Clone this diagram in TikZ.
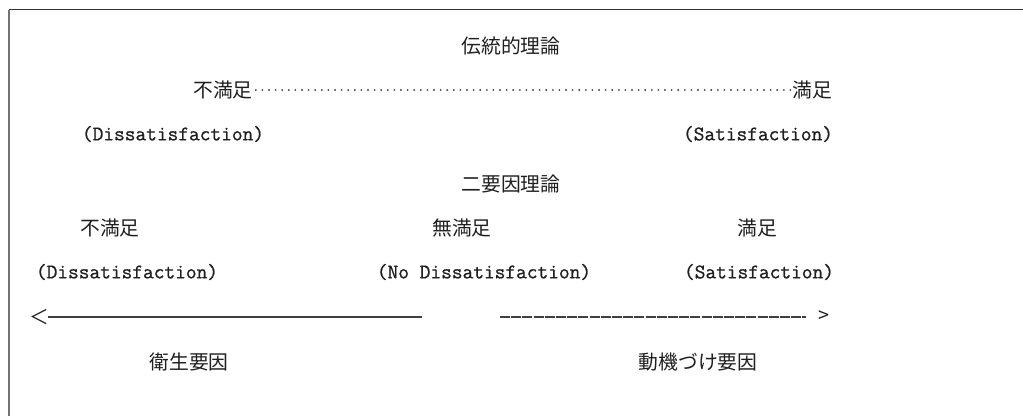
\documentclass[tikz,border=0pt]{standalone}
\usepackage{fontspec}
\newfontfamily\jp{Noto Sans CJK JP}
\newfontfamily\mono[FakeBold=0.9]{Latin Modern Mono}
\begin{document}
\begin{tikzpicture}[x=1pt,y=-1pt,
  jt/.style={inner sep=0pt,font=\jp\fontsize{19.8}{22}\selectfont,text=black!88},
  et/.style={inner sep=0pt,font=\mono\fontsize{20.8}{24}\selectfont,text=black!88},
  rule/.style={line width=1.3pt,draw=black!75},
  dots/.style={line width=2.1pt,draw=black!72,line cap=round,dash pattern=on 0pt off 6.6pt}]
\useasboundingbox (0,0) rectangle (1023,416);
% frame
\draw[line width=1.6pt,draw=black!80] (8.5,9.5) -- (1023,9.5);
\draw[line width=2pt,draw=black!55] (8.5,9.5) -- (8.5,416);
% traditional theory
\node[jt] (t1) at (511,46) {伝統的理論};
\node[jt,anchor=west] (tl) at (193,90) {不満足};
\node[jt,anchor=east] (tr) at (832,90) {満足};
\draw[dots] ([xshift=3pt]tl.east) -- ([xshift=1pt]tr.west);
\node[et] (te1) at (173,134) {(Dissatisfaction)};
\node[et] (te2) at (758,134) {(Satisfaction)};
% two-factor theory
\node[jt] (t2) at (511,184) {二要因理論};
\node[jt] (a1) at (110,228) {不満足};
\node[jt] (a2) at (462,228) {無満足};
\node[jt] (a3) at (757,228) {満足};
\node[et] (b1) at (127,272) {(Dissatisfaction)};
\node[et] (b2) at (484,272) {(No Dissatisfaction)};
\node[et] (b3) at (759,272) {(Satisfaction)};
\node[jt] (lt) at (39,317) {＜};
\coordinate (le) at (422,317);
\coordinate (rs) at (500,317);
\node[jt] (gt) at (824,317) {>};
\draw[rule] ([xshift=-1pt]lt.east) -- (le);
\draw[rule,dash pattern=on 10pt off 1.2pt] (rs) -- ([xshift=-12pt]gt.west);
\node[jt] (c1) at (189,362) {衛生要因};
\node[jt] (c2) at (698,362) {動機づけ要因};
\end{tikzpicture}
\end{document}
